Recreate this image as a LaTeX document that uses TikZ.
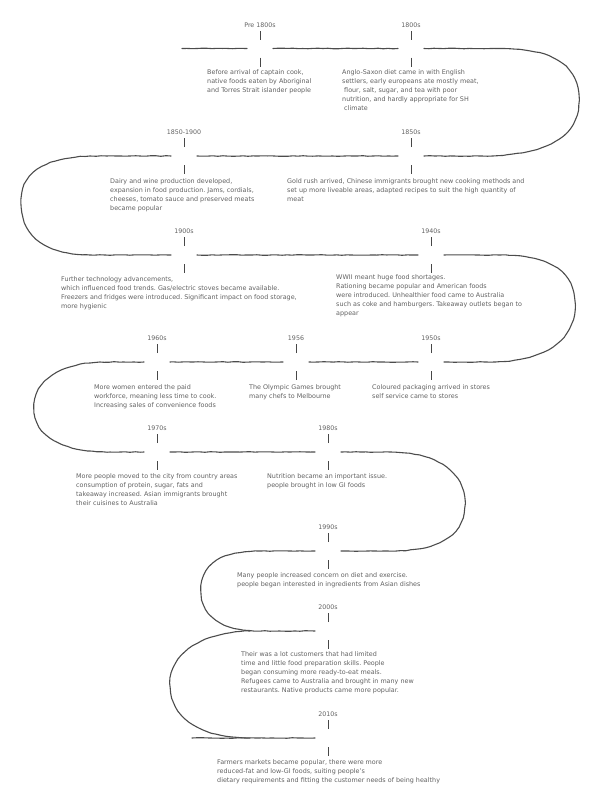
\documentclass[tikz,border=0pt]{standalone}
\usepackage{fontspec}
\setmainfont{DejaVu Sans}
\usepackage{tikz}
\usetikzlibrary{positioning,decorations.pathmorphing}
\frenchspacing

\begin{document}
\pgfmathsetseed{7}
\begin{tikzpicture}[
    x=1pt, y=-1pt,
    road/.style={draw=black!70, line width=1.1pt, line cap=round, decorate, decoration={random steps, segment length=5pt, amplitude=0.3pt}},
    tick/.style={draw=black!72, line width=0.5pt},
    era/.style={font=\fontsize{6.3}{9}\selectfont, text=black!62, inner sep=0pt},
    event/.style={font=\fontsize{6.4}{9}\selectfont, text=black!62, align=left, anchor=north west, inner sep=0pt},
]
\useasboundingbox (0,0) rectangle (600,806);

% Points where the eras sit on the road
\coordinate (pre) at (260,48.5);
\coordinate (c1800) at (411,48.5);
\coordinate (c1850a) at (184,156);
\coordinate (c1850) at (411,156);
\coordinate (c1900) at (184,255);
\coordinate (c1940) at (431,255);
\coordinate (c1960) at (157,362);
\coordinate (c1956) at (296,362);
\coordinate (c1950) at (431,362);
\coordinate (c1970) at (157,452);
\coordinate (c1980) at (328,452);
\coordinate (c1990) at (328,551);
\coordinate (c2000) at (328,631);
\coordinate (c2010) at (328,738);

% The winding road
\draw[road] (182,48.5) -- ([xshift=-13pt]pre);
\draw[road] ([xshift=13pt]pre) -- ([xshift=-13pt]c1800);
\draw[road] ([xshift=13pt]c1800) -- (500,48.5) .. controls (560,48.5) and (579,70) .. (579,100) .. controls (579,135) and (550,156) .. (480,156) -- ([xshift=13pt]c1850);
\draw[road] ([xshift=-13pt]c1850) -- ([xshift=13pt]c1850a);
\draw[road] ([xshift=-13pt]c1850a) -- (90,156) .. controls (40,158) and (21,175) .. (21,203) .. controls (21,235) and (45,255) .. (90,255) -- ([xshift=-13pt]c1900);
\draw[road] ([xshift=13pt]c1900) -- ([xshift=-13pt]c1940);
\draw[road] ([xshift=13pt]c1940) -- (500,255) .. controls (555,255) and (575,275) .. (575,305) .. controls (575,340) and (545,362) .. (490,362) -- ([xshift=13pt]c1950);
\draw[road] ([xshift=-13pt]c1950) -- ([xshift=13pt]c1956);
\draw[road] ([xshift=-13pt]c1956) -- ([xshift=13pt]c1960);
\draw[road] ([xshift=-13pt]c1960) -- (100,362) .. controls (60,364) and (34,380) .. (34,408) .. controls (34,435) and (60,452) .. (110,452) -- ([xshift=-13pt]c1970);
\draw[road] ([xshift=13pt]c1970) -- ([xshift=-13pt]c1980);
\draw[road] ([xshift=13pt]c1980) -- (390,452) .. controls (440,452) and (465,475) .. (465,503) .. controls (465,535) and (440,551) .. (390,551) -- ([xshift=13pt]c1990);
\draw[road] ([xshift=-13pt]c1990) -- (260,551) .. controls (220,551) and (201,565) .. (201,590) .. controls (201,615) and (220,631) .. (260,631) -- ([xshift=-13pt]c2000);
\draw[road] (250,631) .. controls (200,632) and (170,655) .. (170,683) .. controls (170,718) and (200,738) .. (250,738);
\draw[road] (192,738) -- ([xshift=-13pt]c2010);

% Era labels
\node[era, above=21pt of pre] (lpre) {Pre 1800s};
\node[era, above=21pt of c1800] (l1800) {1800s};
\node[era, above=21pt of c1850a] (l1850a) {1850-1900};
\node[era, above=21pt of c1850] (l1850) {1850s};
\node[era, above=21pt of c1900] (l1900) {1900s};
\node[era, above=21pt of c1940] (l1940) {1940s};
\node[era, above=21pt of c1960] (l1960) {1960s};
\node[era, above=21pt of c1956] (l1956) {1956};
\node[era, above=21pt of c1950] (l1950) {1950s};
\node[era, above=21pt of c1970] (l1970) {1970s};
\node[era, above=21pt of c1980] (l1980) {1980s};
\node[era, above=21pt of c1990] (l1990) {1990s};
\node[era, above=21pt of c2000] (l2000) {2000s};
\node[era, above=21pt of c2010] (l2010) {2010s};

% Ticks above and below the road
\draw[tick] ([yshift=9pt]pre) -- ([yshift=18pt]pre) ([yshift=-9pt]pre) -- ([yshift=-18pt]pre);
\draw[tick] ([yshift=9pt]c1800) -- ([yshift=18pt]c1800) ([yshift=-9pt]c1800) -- ([yshift=-18pt]c1800);
\draw[tick] ([yshift=9pt]c1850a) -- ([yshift=18pt]c1850a) ([yshift=-9pt]c1850a) -- ([yshift=-18pt]c1850a);
\draw[tick] ([yshift=9pt]c1850) -- ([yshift=18pt]c1850) ([yshift=-9pt]c1850) -- ([yshift=-18pt]c1850);
\draw[tick] ([yshift=9pt]c1900) -- ([yshift=18pt]c1900) ([yshift=-9pt]c1900) -- ([yshift=-18pt]c1900);
\draw[tick] ([yshift=9pt]c1940) -- ([yshift=18pt]c1940) ([yshift=-9pt]c1940) -- ([yshift=-18pt]c1940);
\draw[tick] ([yshift=9pt]c1960) -- ([yshift=18pt]c1960) ([yshift=-9pt]c1960) -- ([yshift=-18pt]c1960);
\draw[tick] ([yshift=9pt]c1956) -- ([yshift=18pt]c1956) ([yshift=-9pt]c1956) -- ([yshift=-18pt]c1956);
\draw[tick] ([yshift=9pt]c1950) -- ([yshift=18pt]c1950) ([yshift=-9pt]c1950) -- ([yshift=-18pt]c1950);
\draw[tick] ([yshift=9pt]c1970) -- ([yshift=18pt]c1970) ([yshift=-9pt]c1970) -- ([yshift=-18pt]c1970);
\draw[tick] ([yshift=9pt]c1980) -- ([yshift=18pt]c1980) ([yshift=-9pt]c1980) -- ([yshift=-18pt]c1980);
\draw[tick] ([yshift=9pt]c1990) -- ([yshift=18pt]c1990) ([yshift=-9pt]c1990) -- ([yshift=-18pt]c1990);
\draw[tick] ([yshift=9pt]c2000) -- ([yshift=18pt]c2000) ([yshift=-9pt]c2000) -- ([yshift=-18pt]c2000);
\draw[tick] ([yshift=9pt]c2010) -- ([yshift=18pt]c2010) ([yshift=-9pt]c2010) -- ([yshift=-18pt]c2010);

% What happened in each era
\node[event] (tpre) at (207,69.5) {Before arrival of captain cook,\\native foods eaten by Aboriginal\\and Torres Strait islander people};
\node[event] (t1800) at (342,69.5) {Anglo-Saxon diet came in with English\\settlers, early europeans ate mostly meat,\\\ flour, salt, sugar, and tea with poor\\nutrition, and hardly appropriate for SH\\\ climate};
\node[event] (t1850a) at (110,178.5) {Dairy and wine production developed,\\expansion in food production. Jams, cordials,\\cheeses, tomato sauce and preserved meats\\became popular};
\node[event] (t1850) at (287,178.5) {Gold rush arrived, Chinese immigrants brought new cooking methods and\\set up more liveable areas, adapted recipes to suit the high quantity of\\meat};
\node[event] (t1900) at (61,276.5) {Further technology advancements,\\which influenced food trends. Gas/electric stoves became available.\\Freezers and fridges were introduced. Significant impact on food storage,\\more hygienic};
\node[event] (t1940) at (336,274.5) {WWII meant huge food shortages.\\Rationing became popular and American foods\\were introduced. Unhealthier food came to Australia\\such as coke and hamburgers. Takeaway outlets began to\\appear};
\node[event] (t1960) at (94,384.5) {More women entered the paid\\workforce, meaning less time to cook.\\Increasing sales of convenience foods};
\node[event] (t1956) at (249,384.5) {The Olympic Games brought\\many chefs to Melbourne};
\node[event] (t1950) at (372,384.5) {Coloured packaging arrived in stores\\self service came to stores};
\node[event] (t1970) at (76,473.5) {More people moved to the city from country areas\\consumption of protein, sugar, fats and\\takeaway increased. Asian immigrants brought\\their cuisines to Australia};
\node[event] (t1980) at (267,473.5) {Nutrition became an important issue.\\people brought in low GI foods};
\node[event] (t1990) at (237,572.5) {Many people increased concern on diet and exercise.\\people began interested in ingredients from Asian dishes};
\node[event] (t2000) at (241,651.5) {Their was a lot customers that had limited\\time and little food preparation skills. People\\began consuming more ready-to-eat meals.\\Refugees came to Australia and brought in many new\\restaurants. Native products came more popular.};
\node[event] (t2010) at (217,759.5) {Farmers markets became popular, there were more\\reduced-fat and low-GI foods, suiting people's\\dietary requirements and fitting the customer needs of being healthy};

\end{tikzpicture}
\end{document}
